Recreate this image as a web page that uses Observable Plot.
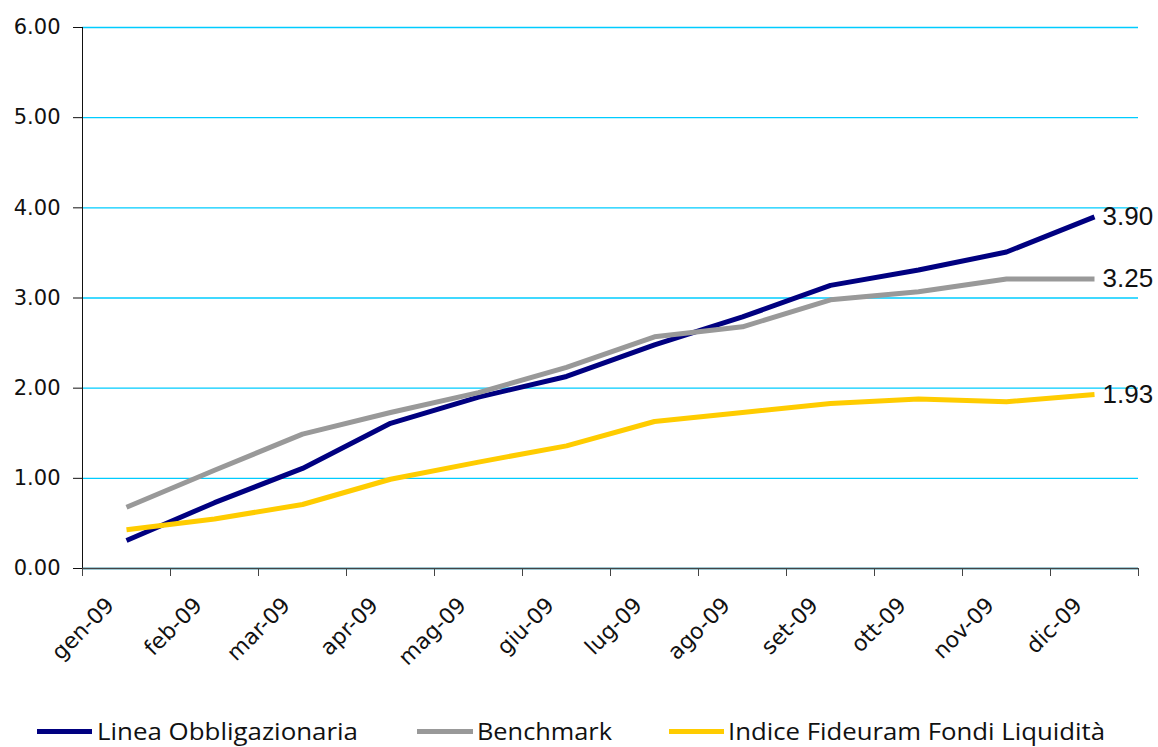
<!DOCTYPE html>
<html>
<head>
<meta charset="utf-8">
<script src="https://cdn.jsdelivr.net/npm/d3@7"></script>
<script src="https://cdn.jsdelivr.net/npm/@observablehq/plot@0.6"></script>
<style>
  html, body { margin: 0; padding: 0; background: #fff; }
  #wrap { position: relative; width: 1158px; height: 747px; overflow: hidden; }
  .sw { position: absolute; height: 5px; }
  .lt { position: absolute; white-space: nowrap; font-family: "Open Sans", "DejaVu Sans", sans-serif; font-size: 23px; line-height: 26px; color: #111; transform-origin: 0 50%; }
</style>
</head>
<body>
<div id="wrap"></div>
<script>
const months = ["gen-09","feb-09","mar-09","apr-09","mag-09","giu-09","lug-09","ago-09","set-09","ott-09","nov-09","dic-09"];
const seriesNames = ["Linea Obbligazionaria", "Benchmark", "Indice Fideuram Fondi Liquidità"];
const linea  = [0.31, 0.73, 1.11, 1.61, 1.90, 2.13, 2.48, 2.79, 3.14, 3.31, 3.51, 3.90];
const bench  = [0.68, 1.09, 1.49, 1.73, 1.95, 2.23, 2.57, 2.68, 2.98, 3.07, 3.21, 3.21];
const indice = [0.43, 0.55, 0.71, 0.99, 1.18, 1.36, 1.63, 1.73, 1.83, 1.88, 1.85, 1.93];
const endLabels = ["3.90", "3.25", "1.93"];
const yTicks = [0, 1, 2, 3, 4, 5, 6];
const colors = ["#000080", "#999999", "#ffcc00"];

const n = months.length;
const allValues = [linea, bench, indice];
const data = allValues.flatMap((vals, k) => vals.map((v, i) => ({series: seriesNames[k], i, v})));
const endData = allValues.map((vals, k) => ({series: seriesNames[k], i: n - 1, v: vals[n - 1], label: endLabels[k]}));
const xDomain = [-0.5, n - 0.5];
const boundaries = d3.range(n + 1).map(i => i - 0.5);

const plot = Plot.plot({
  width: 1158,
  height: 700,
  marginLeft: 82,
  marginRight: 20,
  marginTop: 27,
  marginBottom: 132,
  x: {domain: xDomain},
  y: {domain: [0, 6]},
  color: {domain: seriesNames, range: colors},
  style: {overflow: "visible", fontFamily: "DejaVu Sans", background: "#fff"},
  marks: [
    Plot.gridY(yTicks, {stroke: "#00ccff", strokeOpacity: 1, strokeWidth: 1.3}),
    Plot.axisY(yTicks, {tickFormat: d => d.toFixed(2), tickSize: 9, tickPadding: 13, fontSize: 21, color: "#111", label: null}),
    Plot.axisX(boundaries, {tickFormat: () => "", tickSize: 8, stroke: "#444", label: null}),
    Plot.axisX(d3.range(n), {tickFormat: i => months[i], tickSize: 0, tickRotate: -45, tickPadding: 33, dx: -16, fontSize: 22, color: "#111", label: null}),
    Plot.ruleX([xDomain[0]], {stroke: "#111"}),
    Plot.ruleY([0], {stroke: "#444", strokeWidth: 1.3}),
    Plot.lineY(data, {x: "i", y: "v", z: "series", stroke: "series", strokeWidth: 5, strokeLinecap: "butt", strokeLinejoin: "round"}),
    Plot.text(endData, {x: "i", y: "v", text: "label", textAnchor: "start", dx: 8, fontSize: 26, fontFamily: "Liberation Sans, Arial, sans-serif", fill: "#111"})
  ]
});

const wrap = document.getElementById("wrap");
wrap.appendChild(plot);

// Legend below the SVG
const legPos = [
  {sw: 37, swW: 55, tx: 97, w: 261},
  {sw: 417, swW: 56, tx: 477, w: 135},
  {sw: 669, swW: 55, tx: 728, w: 377}
];
seriesNames.forEach((name, k) => {
  const sw = document.createElement("div");
  sw.className = "sw";
  sw.style.left = legPos[k].sw + "px";
  sw.style.width = legPos[k].swW + "px";
  sw.style.top = "729px";
  sw.style.background = colors[k];
  wrap.appendChild(sw);
  const t = document.createElement("div");
  t.className = "lt";
  t.style.left = legPos[k].tx + "px";
  t.style.top = "718px";
  t.textContent = name;
  wrap.appendChild(t);
  const w = t.getBoundingClientRect().width;
  t.style.transform = `scaleX(${legPos[k].w / w})`;
});
</script>
</body>
</html>
